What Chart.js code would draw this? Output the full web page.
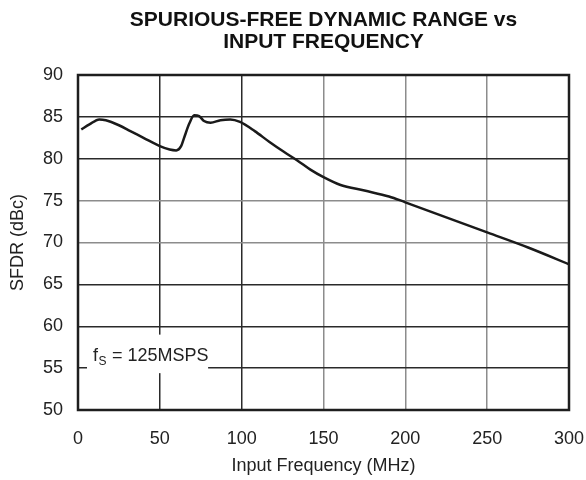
<!DOCTYPE html>
<html>
<head>
<meta charset="utf-8">
<script src="https://cdn.jsdelivr.net/npm/chart.js@4/dist/chart.umd.min.js"></script>
<style>
html,body{margin:0;padding:0;background:#fff;}
#wrap{width:586px;height:480px;}
</style>
</head>
<body>
<div id="wrap"><canvas id="c" width="586" height="480"></canvas></div>
<script>
const freqMHz = [2, 7, 13, 17, 25, 32, 40, 50, 56, 60, 63, 65, 68, 71, 74, 77, 81, 87, 93, 99, 108, 117, 126, 134, 142, 150, 160, 175, 190, 200, 225, 250, 275, 300];
const sfdrDbc = [83.5, 84.1, 84.7, 84.6, 84.0, 83.3, 82.5, 81.5, 81.1, 81.0, 81.5, 82.6, 84.2, 85.2, 85.1, 84.5, 84.3, 84.6, 84.7, 84.4, 83.3, 82.0, 80.8, 79.8, 78.7, 77.8, 76.9, 76.2, 75.5, 74.8, 73.0, 71.2, 69.4, 67.4];
const xTicks = [0, 50, 100, 150, 200, 250, 300];
const yTicks = [50, 55, 60, 65, 70, 75, 80, 85, 90];
const titleLines = ['SPURIOUS-FREE DYNAMIC RANGE vs', 'INPUT FREQUENCY'];
const xTitle = 'Input Frequency (MHz)';
const yTitle = 'SFDR (dBc)';
const noteMain = 'f';
const noteSub = 'S';
const noteRest = ' = 125MSPS';

const FONT = "'Liberation Sans', Arial, Helvetica, sans-serif";
const DARK = '#2a2a2a';
const GREY = '#8c8c8c';
const yGrey = [70, 75];
const xGrey = [150, 200, 250];

const titlePlugin = {
  id: 'customTitle',
  afterDraw(chart) {
    const {ctx, chartArea: a} = chart;
    const cx = (a.left + a.right) / 2;
    ctx.save();
    ctx.fillStyle = '#111';
    ctx.font = 'bold 21px ' + FONT;
    ctx.textAlign = 'center';
    ctx.textBaseline = 'middle';
    ctx.fillText(titleLines[0], cx, 20);
    ctx.fillText(titleLines[1], cx, 42);
    ctx.restore();
  }
};

const notePlugin = {
  id: 'note',
  afterDatasetsDraw(chart) {
    const {ctx, scales: {x, y}} = chart;
    const x0 = x.getPixelForValue(5.5), x1 = x.getPixelForValue(79.5);
    const y0 = y.getPixelForValue(59), y1 = y.getPixelForValue(54.4);
    ctx.save();
    ctx.fillStyle = '#fff';
    ctx.fillRect(x0, y0, x1 - x0, y1 - y0);
    ctx.fillStyle = '#222';
    ctx.textBaseline = 'alphabetic';
    ctx.textAlign = 'left';
    const bx = x0 + 6, by = y.getPixelForValue(55.9);
    ctx.font = '18px ' + FONT;
    ctx.fillText(noteMain, bx, by);
    const w1 = ctx.measureText(noteMain).width;
    ctx.font = '12px ' + FONT;
    ctx.fillText(noteSub, bx + w1 + 0.5, by + 4);
    const w2 = ctx.measureText(noteSub).width;
    ctx.font = '18px ' + FONT;
    ctx.fillText(noteRest, bx + w1 + w2 + 1, by);
    ctx.restore();
  }
};

const framePlugin = {
  id: 'frame',
  afterDraw(chart) {
    const {ctx, chartArea: a} = chart;
    ctx.save();
    ctx.strokeStyle = '#1e1e1e';
    ctx.lineWidth = 2.5;
    ctx.strokeRect(a.left, a.top, a.right - a.left, a.bottom - a.top);
    ctx.restore();
  }
};

new Chart(document.getElementById('c'), {
  type: 'line',
  data: {
    datasets: [{
      data: freqMHz.map((f, i) => ({x: f, y: sfdrDbc[i]})),
      borderColor: '#1a1a1a',
      borderWidth: 2.5,
      pointRadius: 0,
      fill: false,
      cubicInterpolationMode: 'monotone'
    }]
  },
  options: {
    responsive: false,
    animation: false,
    events: [],
    layout: {padding: {left: 0, right: 17, top: 75, bottom: 0}},
    plugins: {
      legend: {display: false},
      tooltip: {enabled: false},
      title: {display: false}
    },
    scales: {
      x: {
        type: 'linear',
        min: 0, max: 300,
        afterBuildTicks(s) { s.ticks = xTicks.map(v => ({value: v})); },
        afterFit(s) { s.height = 70; s.paddingLeft = 0; s.paddingRight = 0; },
        grid: {
          drawTicks: false,
          lineWidth: 1.5,
          color: c => xGrey.includes(c.tick && c.tick.value) ? GREY : DARK
        },
        border: {display: false},
        ticks: {color: '#222', padding: 18, font: {family: FONT, size: 18}},
        title: {display: true, text: xTitle, color: '#222', font: {family: FONT, size: 18}, padding: {top: 4, bottom: 3}}
      },
      y: {
        type: 'linear',
        min: 50, max: 90,
        afterBuildTicks(s) { s.ticks = yTicks.map(v => ({value: v})); },
        afterFit(s) { s.width = 78; s.paddingTop = 0; s.paddingBottom = 0; },
        grid: {
          drawTicks: false,
          lineWidth: 1.5,
          color: c => yGrey.includes(c.tick && c.tick.value) ? GREY : DARK
        },
        border: {display: false},
        ticks: {color: '#222', padding: 15, font: {family: FONT, size: 18}},
        title: {display: true, text: yTitle, color: '#222', font: {family: FONT, size: 18}, padding: {top: 7, bottom: 0}}
      }
    }
  },
  plugins: [notePlugin, framePlugin, titlePlugin]
});
</script>
</body>
</html>
